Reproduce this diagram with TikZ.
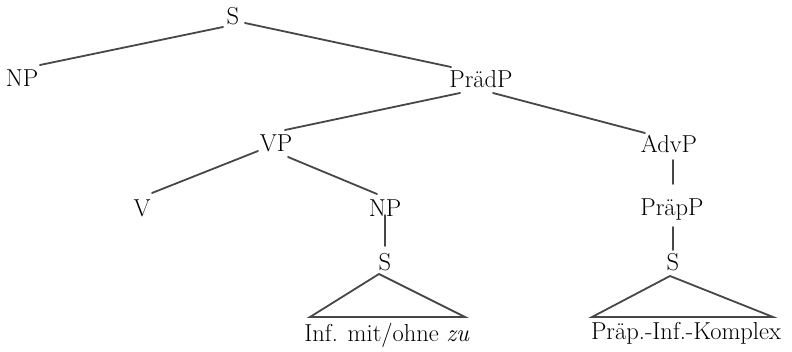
\documentclass[tikz,border=0pt]{standalone}
\usetikzlibrary{calc}
\begin{document}
\begin{tikzpicture}[x=1pt,y=-1pt,
  lab/.style={inner sep=0pt,font=\fontsize{24.5}{28}\selectfont,text=black},
  edge/.style={draw=black!72,line width=1.8pt,line cap=round},
  tri/.style={draw=black!72,line width=1.8pt,line join=miter}]
\useasboundingbox (0,0) rectangle (792,352);
\node[lab] (S0) at (233,16) {S};
\node[lab] (NPa) at (22,78) {NP};
\node[lab] (PraedP) at (481,79) {PrädP};
\node[lab] (VP) at (276,143) {VP};
\node[lab] (AdvP) at (669,144) {AdvP};
\node[lab] (V) at (142,208) {V};
\node[lab] (NPb) at (385,208) {NP};
\node[lab] (PraepP) at (672,210) {PräpP};
\node[lab] (Sb) at (385,262) {S};
\node[lab] (Sc) at (673,262) {S};
\node[lab] (InfL) at (387,335) {Inf. mit/ohne \textit{zu}};
\node[lab] (PraepL) at (686,333) {Präp.-Inf.-Komplex};

\draw[edge] ($(S0)+(-10,11)$) -- ($(NPa)+(18,-13)$);
\draw[edge] ($(S0)+(12,7)$) -- ($(PraedP)+(-30,-12)$);
\draw[edge] ($(PraedP)+(-21,14)$) -- ($(VP)+(9,-13)$);
\draw[edge] ($(PraedP)+(12,14)$) -- ($(AdvP)+(-24,-11)$);
\draw[edge] ($(VP)+(-18,8)$) -- ($(V)+(10,-15)$);
\draw[edge] ($(VP)+(12,14)$) -- ($(NPb)+(-8,-14)$);
\draw[edge] ($(NPb)+(0,7)$) -- ($(Sb)+(0,-16)$);
\draw[edge] ($(AdvP)+(4,16)$) -- ($(PraepP)+(1,-26)$);
\draw[edge] ($(PraepP)+(1,17)$) -- ($(Sc)+(0,-12)$);
\draw[tri] ($(Sb)+(-6,12)$) -- ($(InfL)+(-77,-18)$) -- ($(InfL)+(78,-18)$) -- cycle;
\draw[tri] ($(Sc)+(-3,14)$) -- ($(PraepL)+(-94,-16)$) -- ($(PraepL)+(87,-16)$) -- cycle;
\end{tikzpicture}
\end{document}
